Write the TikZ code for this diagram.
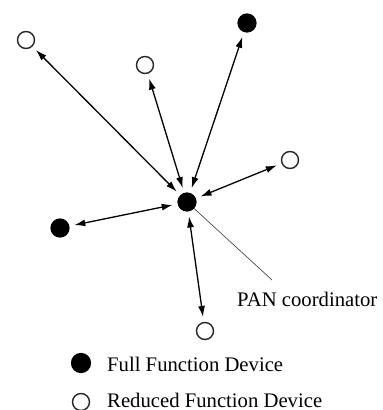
\documentclass[tikz,border=0pt]{standalone}
\usepackage{fontspec}
\setmainfont{Liberation Serif}
\usetikzlibrary{arrows.meta}
\begin{document}
\begin{tikzpicture}[x=1pt,y=-1pt,
  ffd/.style={circle,fill=black,draw=black,line width=1.2pt,minimum size=18pt,inner sep=0pt},
  rfd/.style={circle,fill=white,draw=black!85,line width=1.4pt,minimum size=17pt,inner sep=0pt},
  link/.style={{Latex[length=11pt,width=7pt]}-{Latex[length=11pt,width=7pt]},line width=1.3pt,shorten <=5pt,shorten >=5pt},
  lbl/.style={font=\fontsize{20.7}{24}\selectfont,inner sep=0pt,anchor=base west}]
\useasboundingbox (0,0) rectangle (383,410);
\node[ffd] (pan) at (187,202) {};
\node[rfd] (tl) at (26,40) {};
\node[rfd] (mid) at (145,65) {};
\node[ffd] (top) at (247,23) {};
\node[rfd] (right) at (290,160) {};
\node[ffd] (left) at (60,228) {};
\node[rfd] (bot) at (205,331) {};
\draw[link] (tl) -- (pan);
\draw[link] (mid) -- (pan);
\draw[link] (top) -- (pan);
\draw[link] (right) -- (pan);
\draw[link] (left) -- (pan);
\draw[link] (bot) -- (pan);
\coordinate (lineend) at (272,280);
\draw[line width=0.7pt,black!70] (pan) -- (lineend);
\node[lbl] (pantext) at (237,306) {PAN coordinator};
\node[ffd,minimum size=19pt] (legf) at (81,363) {};
\node[lbl] (legftext) at (107,371) {Full Function Device};
\node[rfd] (legr) at (81,402) {};
\node[lbl] (legrtext) at (107,407) {Reduced Function Device};
\end{tikzpicture}
\end{document}
